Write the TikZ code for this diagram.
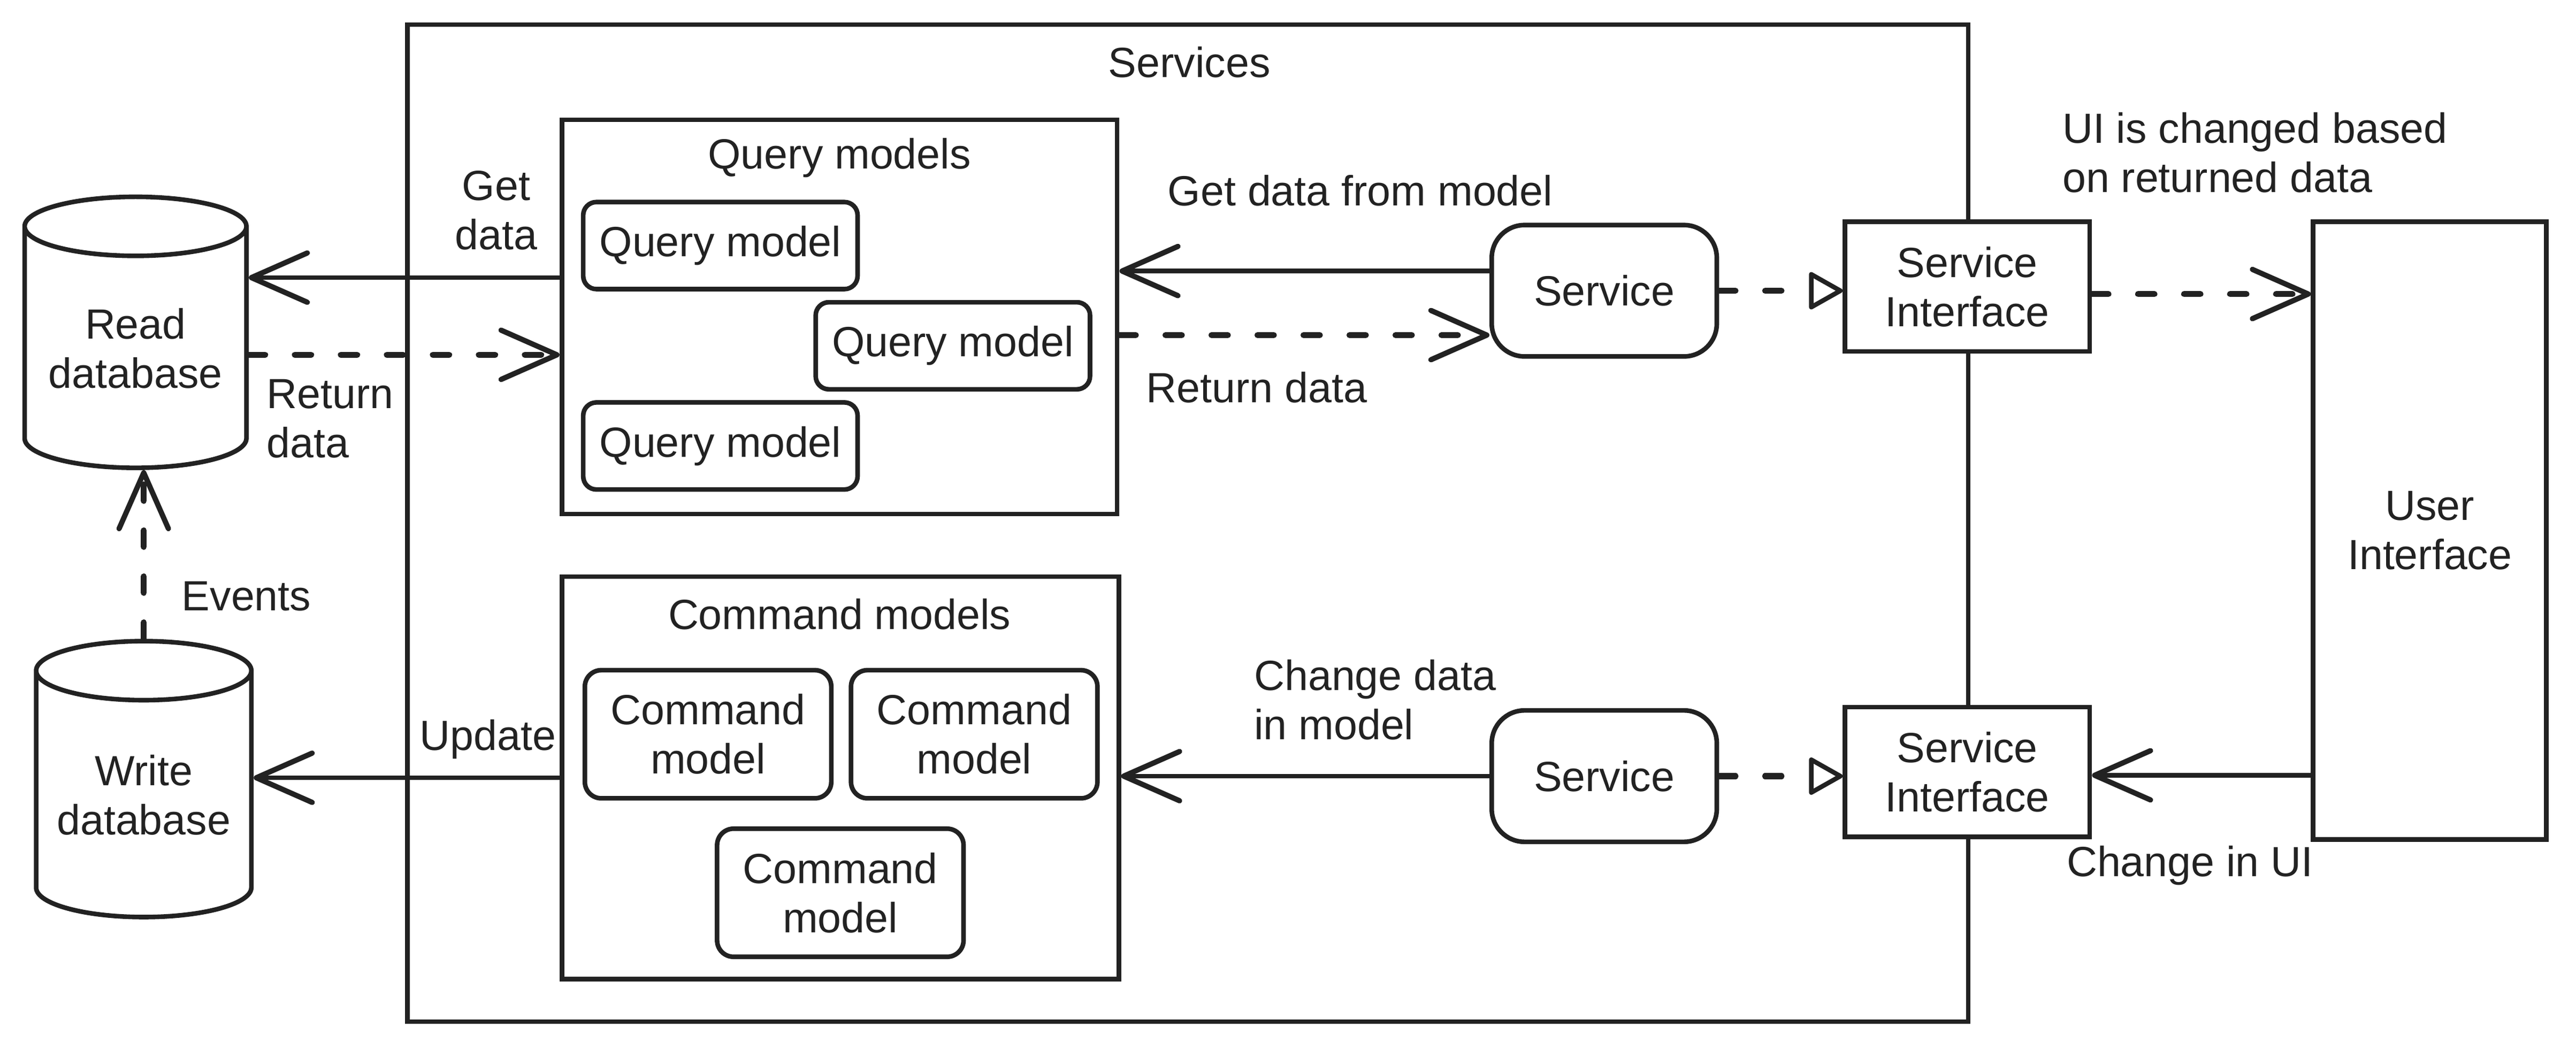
\documentclass[tikz,border=0pt]{standalone}
\usepackage{fontspec}
\setmainfont{Liberation Sans}
\usetikzlibrary{shapes.geometric,arrows.meta,positioning}
\definecolor{ink}{HTML}{222222}
\tikzset{
  box/.style={draw=ink, line width=1.4pt, text=ink, inner sep=0pt, fill=white},
  modelbox/.style={box, rounded corners=4pt, minimum width=83.5pt, minimum height=26.5pt},
  cmdbox/.style={box, rounded corners=5pt, minimum width=75pt, minimum height=39pt, align=center},
  servicebox/.style={box, rounded corners=10pt, minimum width=68.5pt, minimum height=40pt},
  ifacebox/.style={box, minimum width=74.5pt, minimum height=39.5pt, align=center},
  dbshape/.style={box, cylinder, shape border rotate=90, aspect=0.34, align=center},
  lbl/.style={text=ink, inner sep=0pt},
  conn/.style={draw=ink, line width=1.4pt},
  dashconn/.style={draw=ink, line width=1.8pt, line cap=round, dash pattern=on 5pt off 9pt},
  barb/.style={-{Straight Barb[round,length=17pt,width=15pt,line width=1.6pt]}},
  hollow/.style={-{Triangle[open,round,length=11pt,width=12pt,line width=1.4pt]}}
}
\begin{document}
\begin{tikzpicture}[x=0.5pt, y=-0.5pt, every node/.append style={font=\fontsize{12.85pt}{15pt}\selectfont}]
    \useasboundingbox (0,0) rectangle (1568,639);
    % Rahmen Services
    \node[box, minimum width=475pt, minimum height=303.5pt] (services) at (723,318.5) {};
    \node[lbl] (serviceslbl) at (724,38) {Services};
    % Query models
    \node[box, minimum width=169pt, minimum height=120pt] (qmodels) at (511,193) {};
    \node[lbl] (qmodelslbl) at (511,96) {Query models};
    \node[modelbox] (qm1) at (438.5,149.5) {Query model};
    \node[modelbox] (qm2) at (580,210.5) {Query model};
    \node[modelbox] (qm3) at (438.5,271.5) {Query model};
    % Command models
    \node[box, minimum width=169.5pt, minimum height=122.5pt] (cmodels) at (511.5,473.5) {};
    \node[lbl] (cmodelslbl) at (511,374) {Command models};
    \node[cmdbox] (cm1) at (431,447) {Command\\model};
    \node[cmdbox] (cm2) at (593,447) {Command\\model};
    \node[cmdbox] (cm3) at (511.5,543.5) {Command\\model};
    % Services und Interfaces
    \node[servicebox] (svc1) at (976.5,177) {Service};
    \node[servicebox] (svc2) at (976.5,472.5) {Service};
    \node[ifacebox] (si1) at (1197.5,174.5) {Service\\Interface};
    \node[ifacebox] (si2) at (1197.5,470) {Service\\Interface};
    \node[box, minimum width=71pt, minimum height=188pt, align=center] (ui) at (1479,323) {User\\Interface};
    % Datenbanken
    \node[dbshape, minimum width=67.5pt, minimum height=82.5pt] (rdb) at (82.5,212) {Read\\database};
    \node[dbshape, minimum width=65.5pt, minimum height=84pt] (wdb) at (87.5,484) {Write\\database};
    % Pfeile links
    \draw[conn, barb] ([yshift=12pt]qmodels.west) -- ([yshift=12pt]rdb.east |- qmodels.west);
    \draw[dashconn, barb] ([yshift=-11.5pt]rdb.east |- qmodels.west) -- ([yshift=-11.5pt]qmodels.west);
    \draw[dashconn, barb] (wdb.north) -- (wdb.north |- rdb.south);
    \draw[conn, barb] (cmodels.west) -- (cmodels.west -| wdb.east);
    % Pfeile mitte
    \draw[conn, barb] ([yshift=6pt]svc1.west) -- ([yshift=6pt]svc1.west -| qmodels.east);
    \draw[dashconn, barb] ([yshift=-5.5pt]qmodels.east) -- ([yshift=-5.5pt]qmodels.east -| svc1.west);
    \draw[conn, barb] (svc2.west) -- (svc2.west -| cmodels.east);
    % Pfeile rechts
    \draw[dashconn, hollow] (svc1.east) -- (svc1.east -| si1.west);
    \draw[dashconn, hollow] (svc2.east) -- (svc2.east -| si2.west);
    \draw[dashconn, barb] ([yshift=-2.25pt]si1.east) -- ([yshift=-2.25pt]si1.east -| ui.west);
    \draw[conn, barb] ([yshift=-1pt]si2.east -| ui.west) -- ([yshift=-1pt]si2.east);
    % Beschriftungen
    \node[lbl, align=center] (getlbl) at (302,128) {Get\\data};
    \node[lbl, align=left, anchor=west] (retlbl) at (162,255) {Return\\data};
    \node[lbl] (eventslbl) at (150,363) {Events};
    \node[lbl] (updatelbl) at (297,450) {Update};
    \node[lbl] (getmodellbl) at (828,116) {Get data from model};
    \node[lbl] (retmodellbl) at (765,236) {Return data};
    \node[lbl, align=left, anchor=west] (changelbl) at (763,426) {Change data\\in model};
    \node[lbl, align=left, anchor=west] (uilbl) at (1255,93) {UI is changed based\\on returned data};
    \node[lbl] (changeuilbl) at (1333,527) {Change in UI};
\end{tikzpicture}
\end{document}
